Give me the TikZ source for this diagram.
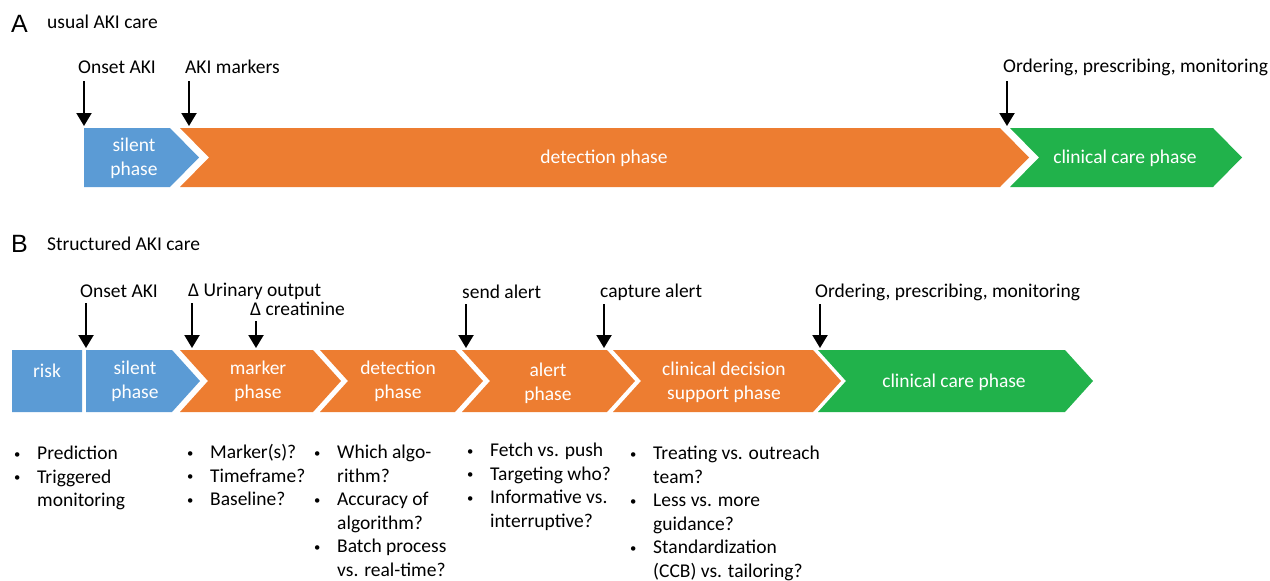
\documentclass[tikz,border=0pt]{standalone}
\usepackage{fontspec}
\setmainfont{Carlito}
\newfontfamily\panelfont{Liberation Sans}
\usepackage{tikz}
\usetikzlibrary{arrows.meta}

\definecolor{akiblue}{RGB}{91,155,213}
\definecolor{akiorange}{RGB}{237,125,49}
\definecolor{akigreen}{RGB}{33,178,75}

% colour, left, right, top, bottom, notch depth, tip depth
\newcommand{\phasebox}[7]{%
  \fill[#1] (#2,#4) -- (#3,#4) -- ({#3+#7},{(#4+#5)/2}) -- (#3,#5) -- (#2,#5)
    -- ({#2+#6},{(#4+#5)/2}) -- cycle;}
\newcommand{\bl}{\hspace{2pt}\raisebox{1.5pt}{\scalebox{0.65}{\textbullet}}}

\begin{document}
\begin{tikzpicture}[x=1pt,y=-1pt,
    txt/.style={font=\fontsize{19.5}{24}\selectfont, inner sep=0pt},
    lbl/.style={txt, anchor=west},
    phasetext/.style={txt, text=white, align=center},
    bullets/.style={txt, anchor=north west, font=\fontsize{19.5}{23.5}\selectfont},
    marker/.style={line width=2.2pt, -{Triangle[width=15pt,length=13pt]}}]
    \useasboundingbox (0,0) rectangle (1270,581);

    % A: usual care
    \node[anchor=west, inner sep=0pt, font=\panelfont\fontsize{25}{28}\selectfont] (pa) at (11,24) {A};
    \node[lbl] (ta) at (47,22) {usual AKI care};

    \phasebox{akiblue}{84}{170}{128}{187}{0}{29}
    \phasebox{akiorange}{180}{1000}{128}{187}{29}{29}
    \phasebox{akigreen}{1010}{1213}{128}{187}{29}{29}
    \node[phasetext] (silentA) at (134,158) {silent\\phase};
    \node[phasetext] (detectA) at (604,158) {detection phase};
    \node[phasetext] (careA) at (1125,158) {clinical care phase};

    \node[lbl] (onsetA) at (78,67) {Onset AKI};
    \node[lbl] (markA) at (185,67) {AKI markers};
    \node[lbl] (orderA) at (1003,67) {Ordering, prescribing, monitoring};
    \coordinate (o1) at (84,81);   \coordinate (o2) at (84,126);
    \coordinate (m1) at (189,81);  \coordinate (m2) at (189,126);
    \coordinate (r1) at (1007,81); \coordinate (r2) at (1007,126);
    \draw[marker] (o1) -- (o2);
    \draw[marker] (m1) -- (m2);
    \draw[marker] (r1) -- (r2);

    % B: structured care
    \node[anchor=west, inner sep=0pt, font=\panelfont\fontsize{25}{28}\selectfont] (pb) at (11,244) {B};
    \node[lbl] (tb) at (47,244) {Structured AKI care};

    \phasebox{akiblue}{12}{82}{350}{412}{0}{0}
    \phasebox{akiblue}{86}{172}{350}{412}{0}{28}
    \phasebox{akiorange}{180}{313}{350}{412}{28}{28}
    \phasebox{akiorange}{320}{455}{350}{412}{28}{28}
    \phasebox{akiorange}{462}{607}{350}{412}{28}{28}
    \phasebox{akiorange}{613}{813}{350}{412}{28}{28}
    \phasebox{akigreen}{818}{1065}{350}{412}{28}{28}
    \node[phasetext] (risk) at (47,371) {risk};
    \node[phasetext] (silentB) at (135,381) {silent\\phase};
    \node[phasetext] (markerB) at (258,381) {marker\\phase};
    \node[phasetext] (detectB) at (398,381) {detection\\phase};
    \node[phasetext] (alertB) at (548,383) {alert\\phase};
    \node[phasetext] (cdsB) at (724,382) {clinical decision\\support phase};
    \node[phasetext] (careB) at (954,382) {clinical care phase};

    \node[lbl] (onsetB) at (80,291) {Onset AKI};
    \node[lbl] (urineB) at (188,291) {Δ Urinary output};
    \node[lbl] (creatB) at (250,309) {Δ creatinine};
    \node[lbl] (sendB) at (462,292) {send alert};
    \node[lbl] (captB) at (600,292) {capture alert};
    \node[lbl] (orderB) at (815,292) {Ordering, prescribing, monitoring};
    \coordinate (b1) at (86,303);  \coordinate (b2) at (86,348);
    \coordinate (u1) at (192,303); \coordinate (u2) at (192,348);
    \coordinate (c1) at (256,321); \coordinate (c2) at (256,348);
    \coordinate (s1) at (466,304); \coordinate (s2) at (466,348);
    \coordinate (k1) at (604,304); \coordinate (k2) at (604,348);
    \coordinate (d1) at (820,304); \coordinate (d2) at (820,348);
    \draw[marker] (b1) -- (b2);
    \draw[marker] (u1) -- (u2);
    \draw[marker] (c1) -- (c2);
    \draw[marker] (s1) -- (s2);
    \draw[marker] (k1) -- (k2);
    \draw[marker] (d1) -- (d2);

    % questions per phase
    \node[bullets] (qrisk) at (12,443) {\begin{tabular}{@{}p{25pt}@{}l@{}}
      \bl & Prediction\\ \bl & Triggered\\ & monitoring\end{tabular}};
    \node[bullets] (qmark) at (185,442) {\begin{tabular}{@{}p{25pt}@{}l@{}}
      \bl & Marker(s)?\\ \bl & Timeframe?\\ \bl & Baseline?\end{tabular}};
    \node[bullets] (qdet) at (312,442) {\begin{tabular}{@{}p{25pt}@{}l@{}}
      \bl & Which algo-\\ & rithm?\\ \bl & Accuracy of\\ & algorithm?\\
      \bl & Batch process\\ & vs. real-time?\end{tabular}};
    \node[bullets] (qalert) at (465,440) {\begin{tabular}{@{}p{25pt}@{}l@{}}
      \bl & Fetch vs. push\\ \bl & Targeting who?\\ \bl & Informative vs.\\
      & interruptive?\end{tabular}};
    \node[bullets] (qcds) at (628,443) {\begin{tabular}{@{}p{25pt}@{}l@{}}
      \bl & Treating vs. outreach\\ & team?\\ \bl & Less vs. more\\ & guidance?\\
      \bl & Standardization\\ & (CCB) vs. tailoring?\end{tabular}};
\end{tikzpicture}
\end{document}
